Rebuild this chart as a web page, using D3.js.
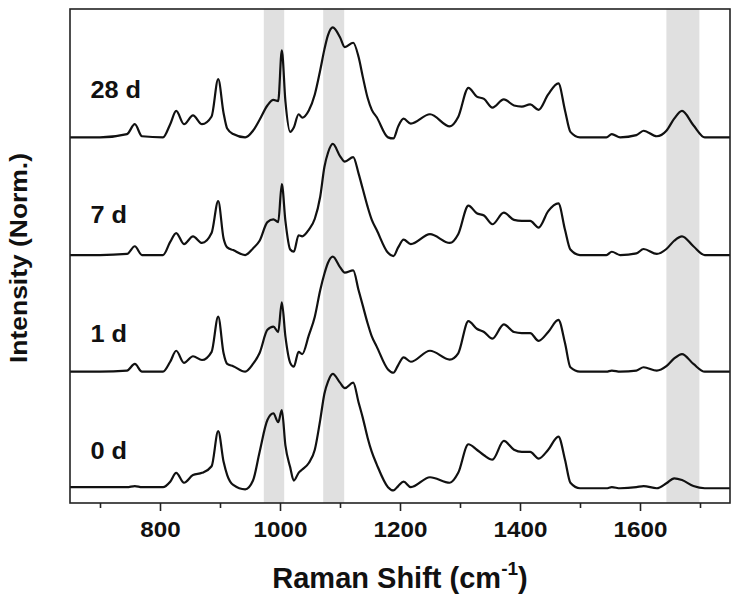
<!DOCTYPE html>
<html><head><meta charset="utf-8">
<script src="https://cdn.jsdelivr.net/npm/d3@7"></script>
<style>body{margin:0;background:#fff} svg{display:block}</style>
</head><body>
<svg id="chart" width="740" height="599"></svg>
<script>
// ---- data ----
const wavenumbers = [650,700,745,758,770,805,817,827,840,855,870,886,897,906,912,922,942,955,966,979,989,997,1003,1009,1017,1023,1031,1037,1048,1058,1067,1074,1080,1088,1100,1108,1122,1131,1138,1146,1153,1161,1180,1189,1197,1206,1218,1250,1283,1297,1314,1328,1340,1354,1373,1390,1403,1417,1431,1447,1464,1475,1484,1500,1544,1553,1567,1594,1606,1628,1644,1657,1670,1689,1708,1750];
const intensity0d = [0.01,0.01,0.01,0.02,0.01,0.01,0.06,0.14,0.05,0.12,0.14,0.20,0.52,0.24,0.12,0.03,-0.01,0.07,0.33,0.62,0.68,0.60,0.71,0.39,0.19,0.07,0.14,0.17,0.23,0.35,0.62,0.86,0.97,1.04,0.96,0.91,0.96,0.78,0.64,0.46,0.33,0.22,0.01,-0.02,0.02,0.06,0.01,0.10,0.05,0.14,0.40,0.35,0.30,0.26,0.43,0.35,0.33,0.33,0.27,0.35,0.47,0.26,0.05,0,0,0.01,0,0.01,0.02,0,0.045,0.09,0.075,0.02,0,0];
const intensity1d = [0,0,0.01,0.07,0,0,0.09,0.19,0.08,0.14,0.106,0.18,0.50,0.167,0.07,0.05,0,0.07,0.17,0.38,0.41,0.36,0.63,0.32,0.08,0.045,0.18,0.16,0.33,0.50,0.74,0.89,0.99,1.045,0.95,0.90,0.92,0.74,0.60,0.44,0.32,0.23,0.02,-0.01,0.06,0.13,0.09,0.19,0.11,0.167,0.46,0.39,0.36,0.30,0.43,0.36,0.35,0.35,0.28,0.36,0.47,0.26,0.04,0,0,0.01,0,0.01,0.04,0.01,0.05,0.12,0.16,0.07,0,0];
const intensity7d = [0,0,0.01,0.08,0,0,0.12,0.20,0.10,0.17,0.11,0.20,0.49,0.15,0.07,0.045,0,0.06,0.13,0.30,0.325,0.30,0.645,0.31,0.05,0.03,0.18,0.17,0.23,0.33,0.53,0.80,0.93,1.01,0.90,0.85,0.89,0.74,0.60,0.44,0.32,0.23,0.02,-0.01,0.07,0.14,0.10,0.19,0.11,0.19,0.45,0.38,0.36,0.28,0.385,0.32,0.31,0.31,0.25,0.40,0.47,0.23,0.05,0,0,0.03,0,0.015,0.055,0.01,0.055,0.13,0.17,0.08,0,0];
const intensity28d = [0,0,0.03,0.12,0.01,0,0.12,0.24,0.12,0.20,0.12,0.19,0.53,0.22,0.08,0.03,0,0.06,0.16,0.29,0.34,0.33,0.79,0.33,0.05,0.09,0.21,0.18,0.245,0.39,0.61,0.80,0.93,1.0,0.91,0.82,0.86,0.73,0.55,0.36,0.25,0.185,0,-0.01,0.10,0.17,0.125,0.21,0.10,0.185,0.45,0.37,0.35,0.27,0.345,0.29,0.28,0.30,0.25,0.39,0.49,0.245,0.05,0,0,0.03,0,0.02,0.06,0.01,0.06,0.17,0.24,0.11,0,0];
const seriesNames = ["0 d","1 d","7 d","28 d"];
const seriesOffsets = [0, 1.06, 2.12, 3.19];
const labelLift = [0.27, 0.27, 0.29, 0.355];
const bands = [[973,1007],[1072,1107],[1644,1699]];
const majorTicks = [800,1000,1200,1400,1600];
const minorTicks = [700,900,1100,1300,1500,1700];

const seriesValues = [intensity0d, intensity1d, intensity7d, intensity28d];

// ---- layout ----
const svg = d3.select("#chart");
const L = 70, R = 730, T = 9, B = 503;
const FONT = "Arial, 'Liberation Sans', Helvetica, sans-serif";
const x = d3.scaleLinear().domain([650,1750]).range([L,R]);
const y = d3.scaleLinear().domain([-0.134, 4.357]).range([B,T]);

// bands
svg.append("g").selectAll("rect").data(bands).join("rect")
  .attr("x", d => x(d[0])).attr("width", d => x(d[1]) - x(d[0]))
  .attr("y", T).attr("height", B - T)
  .attr("fill", "#e0e0e0");

// spectra
const line = d3.line().x((d,i) => x(wavenumbers[i])).curve(d3.curveMonotoneX);
svg.append("g").selectAll("path").data(seriesValues).join("path")
  .attr("d", (vals, k) => line.y(v => y(v + seriesOffsets[k]))(vals))
  .attr("fill", "none").attr("stroke", "#111").attr("stroke-width", 2.2)
  .attr("stroke-linejoin", "round");

// labels
svg.append("g").selectAll("text").data(seriesNames).join("text")
  .attr("transform", (d,k) => `translate(${x(684)},${y(seriesOffsets[k] + labelLift[k])}) scale(1.1,1)`)
  .attr("font-family", FONT).attr("font-weight", "bold").attr("font-size", 23)
  .attr("fill", "#111").text(d => d);

// frame
svg.append("rect").attr("x", L).attr("y", T).attr("width", R - L).attr("height", B - T)
  .attr("fill", "none").attr("stroke", "#222").attr("stroke-width", 1.6);

// axes
const gMajor = svg.append("g").attr("transform", `translate(0,${B})`)
  .call(d3.axisBottom(x).tickValues(majorTicks).tickSize(8).tickPadding(10).tickFormat(d3.format("d")));
const gMinor = svg.append("g").attr("transform", `translate(0,${B})`)
  .call(d3.axisBottom(x).tickValues(minorTicks).tickSize(5).tickFormat(""));
[gMajor, gMinor].forEach(g => {
  g.select(".domain").remove();
  g.selectAll(".tick line").attr("stroke", "#222").attr("stroke-width", 1.6);
});
gMajor.selectAll(".tick text")
  .attr("font-family", FONT).attr("font-weight", "bold").attr("font-size", 22)
  .attr("fill", "#111").attr("transform", "scale(1.1,1)");

// axis titles
const xt = svg.append("text").attr("x", 400).attr("y", 588).attr("text-anchor", "middle")
  .attr("font-family", FONT).attr("font-weight", "bold").attr("font-size", 29).attr("fill", "#111");
xt.append("tspan").text("Raman Shift (cm");
xt.append("tspan").attr("font-size", 19).attr("dy", -13).text("-1");
xt.append("tspan").attr("dy", 13).text(")");

svg.append("text").attr("transform", `translate(27,258) rotate(-90) scale(1.15,1)`)
  .attr("text-anchor", "middle")
  .attr("font-family", FONT).attr("font-weight", "bold").attr("font-size", 23).attr("fill", "#111")
  .text("Intensity (Norm.)");
</script>
</body></html>
